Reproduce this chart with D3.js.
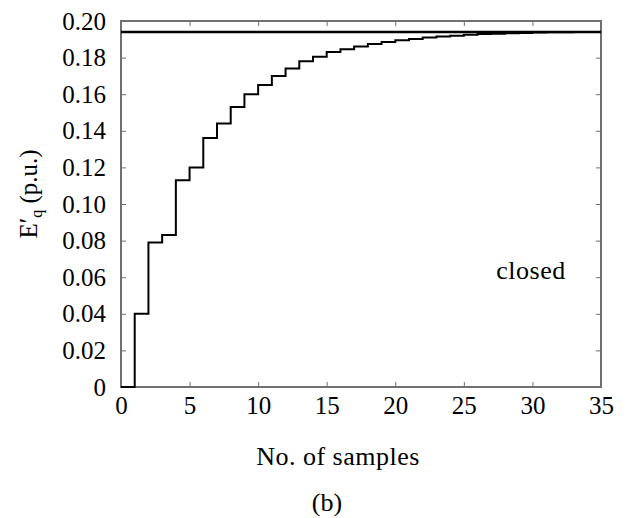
<!DOCTYPE html>
<html>
<head>
<meta charset="utf-8">
<script src="https://cdn.jsdelivr.net/npm/d3@7"></script>
<style>
  body { margin: 0; background: #fff; }
  svg text { font-family: "Liberation Serif", "Times New Roman", Times, serif !important; fill: #000; }
</style>
</head>
<body>
<svg width="634" height="518"></svg>
<script>
// step response, value held from sample i to i+1
let samples = d3.range(0, 36);
let eqValues = [
  0, 0.040, 0.079, 0.083, 0.113, 0.120, 0.136, 0.144, 0.153, 0.160,
  0.165, 0.170, 0.174, 0.178, 0.1805, 0.183, 0.1845, 0.186, 0.1875, 0.1885,
  0.1895, 0.1902, 0.191, 0.1915, 0.192, 0.1925, 0.1929, 0.1931, 0.1933, 0.1935,
  0.1937, 0.1938, 0.1939, 0.194, 0.194
];
let refValue = 0.194;
let xTicks = [0, 5, 10, 15, 20, 25, 30, 35];
let yTicks = [0, 0.02, 0.04, 0.06, 0.08, 0.10, 0.12, 0.14, 0.16, 0.18, 0.20];

let svg = d3.select('svg');
let mLeft = 121, mRight = 601, mTop = 21, mBottom = 387;
let grey = '#707070';

let x = d3.scaleLinear().domain([0, 35]).range([mLeft, mRight]);
let y = d3.scaleLinear().domain([0, 0.2]).range([mBottom, mTop]);

// frame
svg.append('rect')
  .attr('x', mLeft).attr('y', mTop)
  .attr('width', mRight - mLeft).attr('height', mBottom - mTop)
  .attr('fill', 'none')
  .attr('stroke', grey)
  .attr('stroke-width', 2);

// inward ticks on all four sides
function styleAxis(g) {
  g.attr('font-family', null);
  g.select('.domain').remove();
  g.selectAll('.tick line').attr('stroke', grey).attr('stroke-width', 1);
  g.selectAll('.tick text').attr('font-size', 25);
}

svg.append('g')
  .attr('transform', `translate(0,${mBottom})`)
  .call(d3.axisBottom(x).tickValues(xTicks).tickSize(-5).tickPadding(9).tickFormat(d3.format('d')))
  .call(styleAxis);

svg.append('g')
  .attr('transform', `translate(0,${mTop})`)
  .call(d3.axisTop(x).tickValues(xTicks).tickSize(-5).tickFormat(''))
  .call(styleAxis);

svg.append('g')
  .attr('transform', `translate(${mLeft},0)`)
  .call(d3.axisLeft(y).tickValues(yTicks).tickSize(-5).tickPadding(15)
    .tickFormat(d => d === 0 ? '0' : d3.format('.2f')(d)))
  .call(styleAxis);

svg.append('g')
  .attr('transform', `translate(${mRight},0)`)
  .call(d3.axisRight(y).tickValues(yTicks).tickSize(-5).tickFormat(''))
  .call(styleAxis);

// reference level
svg.append('line')
  .attr('x1', x(0)).attr('x2', x(35))
  .attr('y1', y(refValue)).attr('y2', y(refValue))
  .attr('stroke', '#000').attr('stroke-width', 2.5);

// staircase
let pts = samples.map((s, i) => [s, eqValues[Math.min(i, eqValues.length - 1)]]);
let line = d3.line()
  .x(d => x(d[0]))
  .y(d => y(d[1]))
  .curve(d3.curveStepAfter);

svg.append('path')
  .datum(pts)
  .attr('fill', 'none')
  .attr('stroke', '#000')
  .attr('stroke-width', 2)
  .attr('d', line);

svg.append('text')
  .attr('x', 531).attr('y', 279)
  .attr('text-anchor', 'middle')
  .attr('font-size', 26)
  .attr('letter-spacing', 0.5)
  .text('closed');

svg.append('text')
  .attr('x', 338).attr('y', 465)
  .attr('text-anchor', 'middle')
  .attr('font-size', 26)
  .attr('letter-spacing', 0.5)
  .text('No. of samples');

svg.append('text')
  .attr('x', 327).attr('y', 511)
  .attr('text-anchor', 'middle')
  .attr('font-size', 26)
  .text('(b)');

let ylab = svg.append('text')
  .attr('transform', 'translate(37,194) rotate(-90)')
  .attr('text-anchor', 'middle')
  .attr('font-size', 25);
ylab.append('tspan').text('E′');
ylab.append('tspan').attr('font-size', 16).attr('dy', 5).text('q');
ylab.append('tspan').attr('dy', -5).text(' (p.u.)');
</script>
</body>
</html>
